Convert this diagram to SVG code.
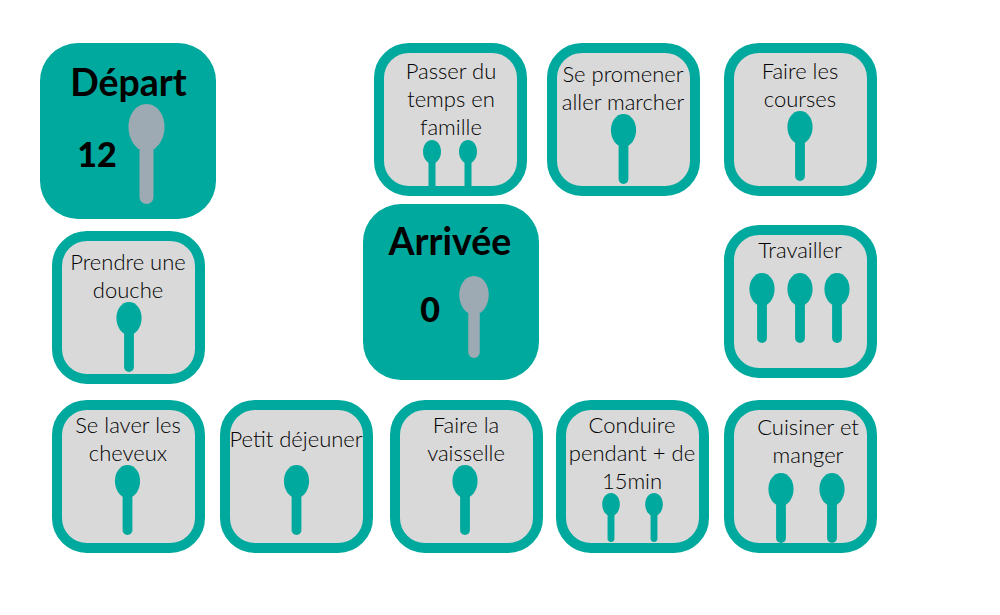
<svg xmlns="http://www.w3.org/2000/svg" width="1000" height="615" viewBox="0 0 1000 615">
<style>
.card{fill:#d9d9d9;stroke:#00a99d;stroke-width:10}
.big{fill:#00a99d}
text{font-family:"Lato","Noto Sans","Liberation Sans",sans-serif;fill:#000;font-size:22px;font-weight:300;text-anchor:middle}
.title{font-size:37.5px;font-weight:700;fill:#000}
.num{font-size:34px;font-weight:900;fill:#000}
.t{fill:#00a99d}.g{fill:#9eaab3}
</style>
<defs>
<g id="spoon"><path d="M0 0C11 0 18 11 18 23C18 36 10 47 0 48C-10 47-18 36-18 23C-18 11-11 0 0 0Z"/><rect x="-7" y="40" width="14" height="60" rx="7"/></g>
</defs>
<rect width="1000" height="615" fill="#fff"/>
<g id="depart"><rect class="big" x="40" y="43" width="176" height="176" rx="38"/><text class="title" x="128.500" y="96">Départ</text><text class="num" x="97" y="167">12</text><use href="#spoon" class="g" transform="translate(146.500,104)"/></g>
<g id="arrivee"><rect class="big" x="363" y="204" width="176" height="176" rx="38"/><text class="title" x="450" y="255">Arrivée</text><text class="num" x="430" y="322">0</text><use href="#spoon" class="g" transform="translate(474,276) scale(.82)"/></g>
<g id="passer"><rect class="card" x="379" y="48" width="143" height="143" rx="30"/><text x="451" y="79">Passer du</text><text x="451" y="107">temps en</text><text x="451" y="135">famille</text><use href="#spoon" class="t" transform="translate(432,140) scale(.5)"/><use href="#spoon" class="t" transform="translate(468,140) scale(.5)"/></g>
<g id="promener"><rect class="card" x="552" y="48" width="143" height="143" rx="30"/><text x="623" y="82">Se promener</text><text x="623" y="110">aller marcher</text><use href="#spoon" class="t" transform="translate(623.500,114) scale(.7)"/></g>
<g id="courses"><rect class="card" x="729" y="48" width="143" height="143" rx="30"/><text x="800" y="79">Faire les</text><text x="800" y="107">courses</text><use href="#spoon" class="t" transform="translate(800,111) scale(.7)"/></g>
<g id="travailler"><rect class="card" x="729" y="230" width="143" height="143" rx="30"/><text x="800" y="258">Travailler</text><use href="#spoon" class="t" transform="translate(762,273) scale(.7)"/><use href="#spoon" class="t" transform="translate(800,273) scale(.7)"/><use href="#spoon" class="t" transform="translate(837,273) scale(.7)"/></g>
<g id="douche"><rect class="card" x="57" y="236" width="143" height="143" rx="30"/><text x="128" y="270">Prendre une</text><text x="128" y="298">douche</text><use href="#spoon" class="t" transform="translate(129,302) scale(.7)"/></g>
<g id="cheveux"><rect class="card" x="57" y="405" width="143" height="143" rx="30"/><text x="128" y="433">Se laver les</text><text x="128" y="461">cheveux</text><use href="#spoon" class="t" transform="translate(127.500,465) scale(.7)"/></g>
<g id="dejeuner"><rect class="card" x="225" y="405" width="143" height="143" rx="30"/><text x="296" y="447">Petit déjeuner</text><use href="#spoon" class="t" transform="translate(296.500,465) scale(.7)"/></g>
<g id="vaisselle"><rect class="card" x="395" y="405" width="143" height="143" rx="30"/><text x="466" y="433">Faire la</text><text x="466" y="461">vaisselle</text><use href="#spoon" class="t" transform="translate(465,465) scale(.7)"/></g>
<g id="conduire"><rect class="card" x="561" y="405" width="143" height="143" rx="30"/><text x="632" y="433">Conduire</text><text x="632" y="461">pendant + de</text><text x="632" y="489">15min</text><use href="#spoon" class="t" transform="translate(611,493) scale(.49)"/><use href="#spoon" class="t" transform="translate(654,493) scale(.49)"/></g>
<g id="cuisiner"><rect class="card" x="729" y="405" width="143" height="143" rx="30"/><text x="808" y="435">Cuisiner et</text><text x="808" y="463">manger</text><use href="#spoon" class="t" transform="translate(781,473) scale(.7)"/><use href="#spoon" class="t" transform="translate(832,473) scale(.7)"/></g>
<g id="connectors"/>
</svg>
